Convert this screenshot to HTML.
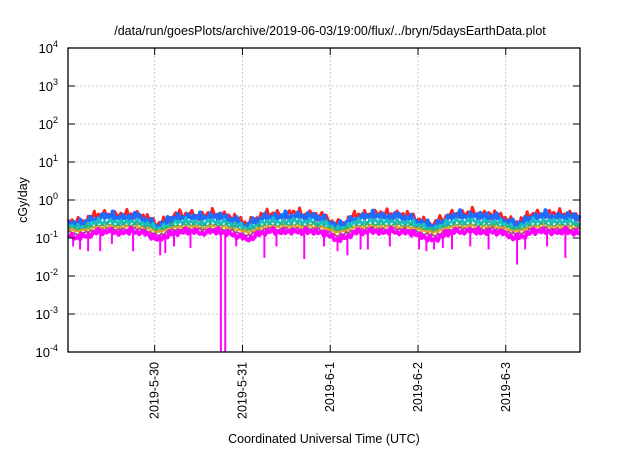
<!DOCTYPE html>
<html><head><meta charset="utf-8"><style>
body{margin:0;background:#fff;width:640px;height:448px;overflow:hidden}
svg text{font-family:"Liberation Sans",sans-serif;fill:#000}
</style></head><body>
<svg id="chart" width="640" height="448" xmlns="http://www.w3.org/2000/svg">
<text x="330" y="35" font-size="12.5" text-anchor="middle">/data/run/goesPlots/archive/2019-06-03/19:00/flux/../bryn/5daysEarthData.plot</text>
<text transform="translate(27,200) rotate(-90)" font-size="12.5" text-anchor="middle">cGy/day</text>
<text x="324" y="443" font-size="12.5" text-anchor="middle">Coordinated Universal Time (UTC)</text>
<g id="grid"></g><g id="series"></g><g id="axes"></g>
</svg>
<script>
const tickLabels=["2019-5-30","2019-5-31","2019-6-1","2019-6-2","2019-6-3"];
const tickHours=[23.7,47.7,71.7,95.7,119.7];
const yExps=[4,3,2,1,0,-1,-2,-3,-4];
const red=[0.30,0.25,0.28,0.35,0.40,0.42,0.40,0.38,0.42,0.38,0.30,0.22,0.28,0.38,0.40,0.42,0.38,0.40,0.42,0.40,0.35,0.30,0.22,0.30,0.40,0.42,0.40,0.42,0.45,0.40,0.42,0.38,0.30,0.22,0.25,0.35,0.40,0.42,0.45,0.40,0.42,0.40,0.38,0.30,0.25,0.22,0.30,0.40,0.45,0.42,0.45,0.40,0.42,0.38,0.30,0.24,0.30,0.40,0.42,0.45,0.40,0.42,0.40,0.38];
const blue=[0.26,0.21,0.24,0.30,0.35,0.37,0.34,0.33,0.37,0.33,0.26,0.19,0.24,0.33,0.35,0.36,0.33,0.35,0.37,0.34,0.30,0.26,0.19,0.26,0.34,0.36,0.35,0.36,0.39,0.35,0.36,0.33,0.26,0.19,0.22,0.30,0.35,0.36,0.39,0.35,0.36,0.35,0.33,0.26,0.22,0.19,0.26,0.35,0.39,0.36,0.39,0.35,0.36,0.33,0.26,0.21,0.26,0.35,0.36,0.39,0.35,0.36,0.35,0.33];
const cyan=[0.22,0.19,0.20,0.24,0.26,0.27,0.26,0.25,0.27,0.25,0.22,0.17,0.20,0.25,0.26,0.27,0.25,0.26,0.27,0.26,0.24,0.21,0.17,0.21,0.26,0.27,0.26,0.27,0.28,0.26,0.27,0.25,0.22,0.17,0.19,0.24,0.26,0.27,0.28,0.26,0.27,0.26,0.25,0.22,0.19,0.17,0.21,0.26,0.28,0.27,0.28,0.26,0.27,0.25,0.22,0.18,0.21,0.26,0.27,0.28,0.26,0.27,0.26,0.25];
const yellow=[0.17,0.15,0.16,0.18,0.19,0.20,0.19,0.19,0.20,0.19,0.17,0.14,0.16,0.19,0.19,0.20,0.19,0.19,0.20,0.19,0.18,0.16,0.14,0.16,0.19,0.20,0.19,0.20,0.20,0.19,0.20,0.19,0.17,0.14,0.15,0.18,0.19,0.20,0.20,0.19,0.20,0.19,0.19,0.17,0.15,0.14,0.16,0.19,0.20,0.20,0.20,0.19,0.20,0.19,0.17,0.15,0.16,0.19,0.20,0.20,0.19,0.20,0.19,0.19];
const magenta=[0.12,0.10,0.11,0.13,0.14,0.15,0.14,0.14,0.15,0.14,0.12,0.09,0.11,0.14,0.14,0.15,0.14,0.14,0.15,0.14,0.13,0.11,0.09,0.11,0.14,0.15,0.14,0.15,0.15,0.14,0.15,0.14,0.12,0.09,0.10,0.13,0.14,0.15,0.15,0.14,0.15,0.14,0.14,0.12,0.10,0.09,0.11,0.14,0.15,0.15,0.15,0.14,0.15,0.14,0.12,0.10,0.11,0.14,0.15,0.15,0.14,0.15,0.14,0.14];
const jitter=[1.25,0.85,1.1,0.8,1.35,0.9,1.05,0.75,1.2,0.95,1.4,0.8,1.1,0.9,1.3,0.85,1.0,0.78,1.22,0.92,1.15,0.82,1.45,0.88,1.05,0.8,1.25,0.9,1.12,0.76,1.3,0.94];
const dipHours=[1.4,3.3,5.5,8.8,12.0,17.8,25.2,26.6,29.0,33.5,41.8,43.0,46.0,53.7,57.0,64.6,70.0,73.7,76.4,80.0,82.0,88.0,96.0,98.0,100.1,102.5,105.0,110.0,115.0,122.8,125.0,131.0,136.0];
const dipValues=[0.06,0.05,0.045,0.045,0.07,0.045,0.035,0.04,0.06,0.055,0.00001,0.00001,0.06,0.03,0.06,0.028,0.06,0.045,0.035,0.05,0.05,0.06,0.05,0.045,0.05,0.055,0.05,0.06,0.05,0.02,0.05,0.06,0.03];
const X0=68,X1=580,Y0=48,Y1=352,H=140;
const xs=h=>X0+(h/H)*(X1-X0);
const ys=v=>Y0+(4-Math.log10(v))*(Y1-Y0)/8;
const svg=document.getElementById('chart'),NS='http://www.w3.org/2000/svg';
function mk(tag,attrs,parent){const e=document.createElementNS(NS,tag);for(const k in attrs)e.setAttribute(k,attrs[k]);parent.appendChild(e);return e;}
const grid=document.getElementById('grid'),ser=document.getElementById('series'),ax=document.getElementById('axes');
yExps.forEach(p=>{const y=ys(Math.pow(10,p));
 if(p<4&&p>-4){const l=mk('line',{x1:X0,x2:X1,y1:y,y2:y,stroke:'#aaa','stroke-width':0.8,'stroke-dasharray':'1.5,2.5'},grid);
 
 }
 const t=mk('line',{x1:X0,x2:X0+7,y1:y,y2:y,stroke:'#000'},ax);
 
 
 const t2=mk('line',{x1:X1-7,x2:X1,y1:y,y2:y,stroke:'#000'},ax);
 
 
 const tx=mk('text',{x:58,y:y+5,'font-size':13,'text-anchor':'end'},ax);
 
 
 tx.innerHTML='10<tspan dy="-6" font-size="9">'+p+'</tspan>';
});
tickHours.forEach((h,i)=>{const x=xs(h);
 const l=mk('line',{x1:x,x2:x,y1:Y0,y2:Y1,stroke:'#aaa','stroke-width':0.8,'stroke-dasharray':'1.5,2.5'},grid);
 
 
 const t=mk('line',{x1:x,x2:x,y1:Y1-7,y2:Y1,stroke:'#000'},ax);
 
 
 const t2=mk('line',{x1:x,x2:x,y1:Y0,y2:Y0+7,stroke:'#000'},ax);
 
 
 const tx=mk('text',{transform:`translate(${x+4},362) rotate(-90)`,'font-size':12.5,'text-anchor':'end'},ax);
 
 
 tx.textContent=tickLabels[i];
});
const step=H/(red.length-1);
const seriesList=[[red,'#ff2020',3,'series-red',1.0],[blue,'#1e6cff',4,'series-blue',0.9],[cyan,'#19c0c0',3,'series-cyan',0.6],[cyan.map((v,i)=>yellow[i]*1.12),'#2db07a',2,'series-green',0.4],[yellow,'#e8a020',2,'series-yellow',0.3],[yellow.map((v,i)=>(v+magenta[i])/2),'#a05a7a',2,'series-brown',0.3],[magenta,'#ff00ff',4,'series-magenta',0.6]];
seriesList.forEach(([arr,col,w,name,amp],si)=>{
 const pts=[];
 arr.forEach((v,i)=>{
  pts.push(xs(i*step).toFixed(1)+','+ys(v).toFixed(1));
  if(i<arr.length-1){
   for(let k=1;k<4;k++){const j=jitter[(i*3+k+si*5)%jitter.length];
    const m=v+(arr[i+1]-v)*k/4;
    pts.push(xs((i+k/4)*step).toFixed(1)+','+ys(m*(1+(j-1)*amp)).toFixed(1));}
  }
 });
 const pl=mk('polyline',{points:pts.join(' '),fill:'none',stroke:col,'stroke-width':w,'stroke-linejoin':'round'},ser);
 
 
});
dipHours.forEach((h,i)=>{
 const idx=Math.round(h/step);const base=magenta[Math.min(idx,magenta.length-1)];
 const l=mk('line',{x1:xs(h),x2:xs(h),y1:ys(base),y2:Math.min(Y1,ys(dipValues[i])),stroke:'#ff00ff','stroke-width':2}, ser);
 
 
});
const fr=mk('rect',{x:X0,y:Y0,width:X1-X0,height:Y1-Y0,fill:'none',stroke:'#000','stroke-width':1.3},ax);


</script>
</body></html>
